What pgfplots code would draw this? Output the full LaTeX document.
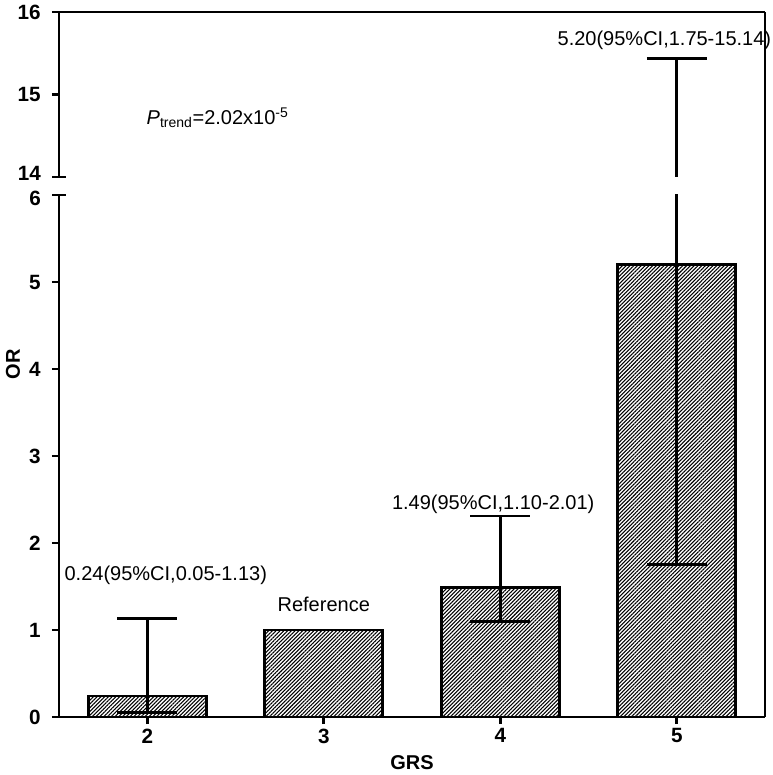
\documentclass[border=0pt]{standalone}
\usepackage{pgfplots}
\pgfplotsset{compat=1.18}
\usepackage{pgfplotstable}
\usepackage{fontspec}
\setmainfont{Liberation Sans}
\usetikzlibrary{patterns.meta}

% GRS, OR, upper error, lower error (as drawn)
\pgfplotstableread{
grs  or    ep     em
2    0.24  0.89   0.19
3    1.00  0      0
4    1.49  0.82   0.39
5    5.20  10.24  3.45
}\ortable

\newcommand{\lbl}{\fontsize{15}{18}\selectfont}

\pgfplotsset{
  brk/.style={
    scale only axis, width=529.5pt,
    xmin=1.5, xmax=5.5,
    axis y line*=box,
    axis line style={line width=2pt, -},
    tick style={line width=2pt, black},
    major tick length=5.25pt, tick align=outside,
    ytick pos=left,
    /pgf/number format/assume math mode=true,
    tick label style={font=\fontsize{15.5}{18}\selectfont\bfseries},
    yticklabel style={xshift=-5pt},
    clip mode=individual,
  },
  ebars/.style={
    error bars/.cd, y dir=both, y explicit,
    error bar style={line width=2pt, draw=black, solid},
    error mark options={rotate=90, line width=2pt, mark size=22.5pt, draw=black},
  },
}

\begin{document}
\begin{tikzpicture}
% lower part, 0 to 6
\begin{axis}[brk, name=lower, at={(0,0)}, height=391.5pt,
  ymin=0, ymax=6, ytick={0,...,5},
  extra y ticks={6},
  extra y tick style={tick align=center, major tick length=10pt,
    yticklabel style={yshift=-2.5pt}},
  axis x line*=bottom,
  xtick={2,3,4,5}, xtick pos=bottom,
  ylabel={OR}, xlabel={GRS},
  label style={font=\lbl\bfseries},
  ylabel style={at={(axis description cs:-0.065,0.676)}, anchor=center},
  xlabel style={at={(axis description cs:0.5,-0.088)}, anchor=center},
]
\addplot[ybar, bar width=88.5pt, draw=black, line width=2pt,
  pattern={Lines[angle=45, distance=2pt, line width=0.8pt]}, ebars]
  table[x=grs, y=or, y error plus=ep, y error minus=em] {\ortable};
\node[font=\lbl] at (axis cs:2.105,1.63) {0.24(95\%CI,0.05-1.13)};
\node[font=\lbl] at (axis cs:3.0,1.29) {Reference};
\node[font=\lbl] at (axis cs:3.96,2.44) {1.49(95\%CI,1.10-2.01)};
\end{axis}

% upper part, 14 to 16
\begin{axis}[brk, name=upper, at={(0,405pt)}, height=123.75pt,
  ymin=14, ymax=16, ytick={15,16},
  extra y ticks={14},
  extra y tick style={tick align=center, major tick length=10pt,
    yticklabel style={yshift=2.5pt}},
  axis x line*=top, xtick=\empty,
]
\addplot[draw=none, mark=none, ebars]
  table[x=grs, y=or, y error plus=ep, y error minus=em] {\ortable};
\node[font=\lbl] at (axis cs:4.93,15.66) {5.20(95\%CI,1.75-15.14)};
\node[font=\lbl, anchor=west] at (axis cs:1.97,14.72)
  {\textit{P}\textsubscript{trend}=2.02x10\textsuperscript{-5}};
\end{axis}

\draw[line width=2pt, line cap=rect] (lower.north east) -- (upper.south east);

\pgfresetboundingbox
\path (-44.25pt,-43.5pt) rectangle (534.75pt,537.75pt);
\end{tikzpicture}
\end{document}
